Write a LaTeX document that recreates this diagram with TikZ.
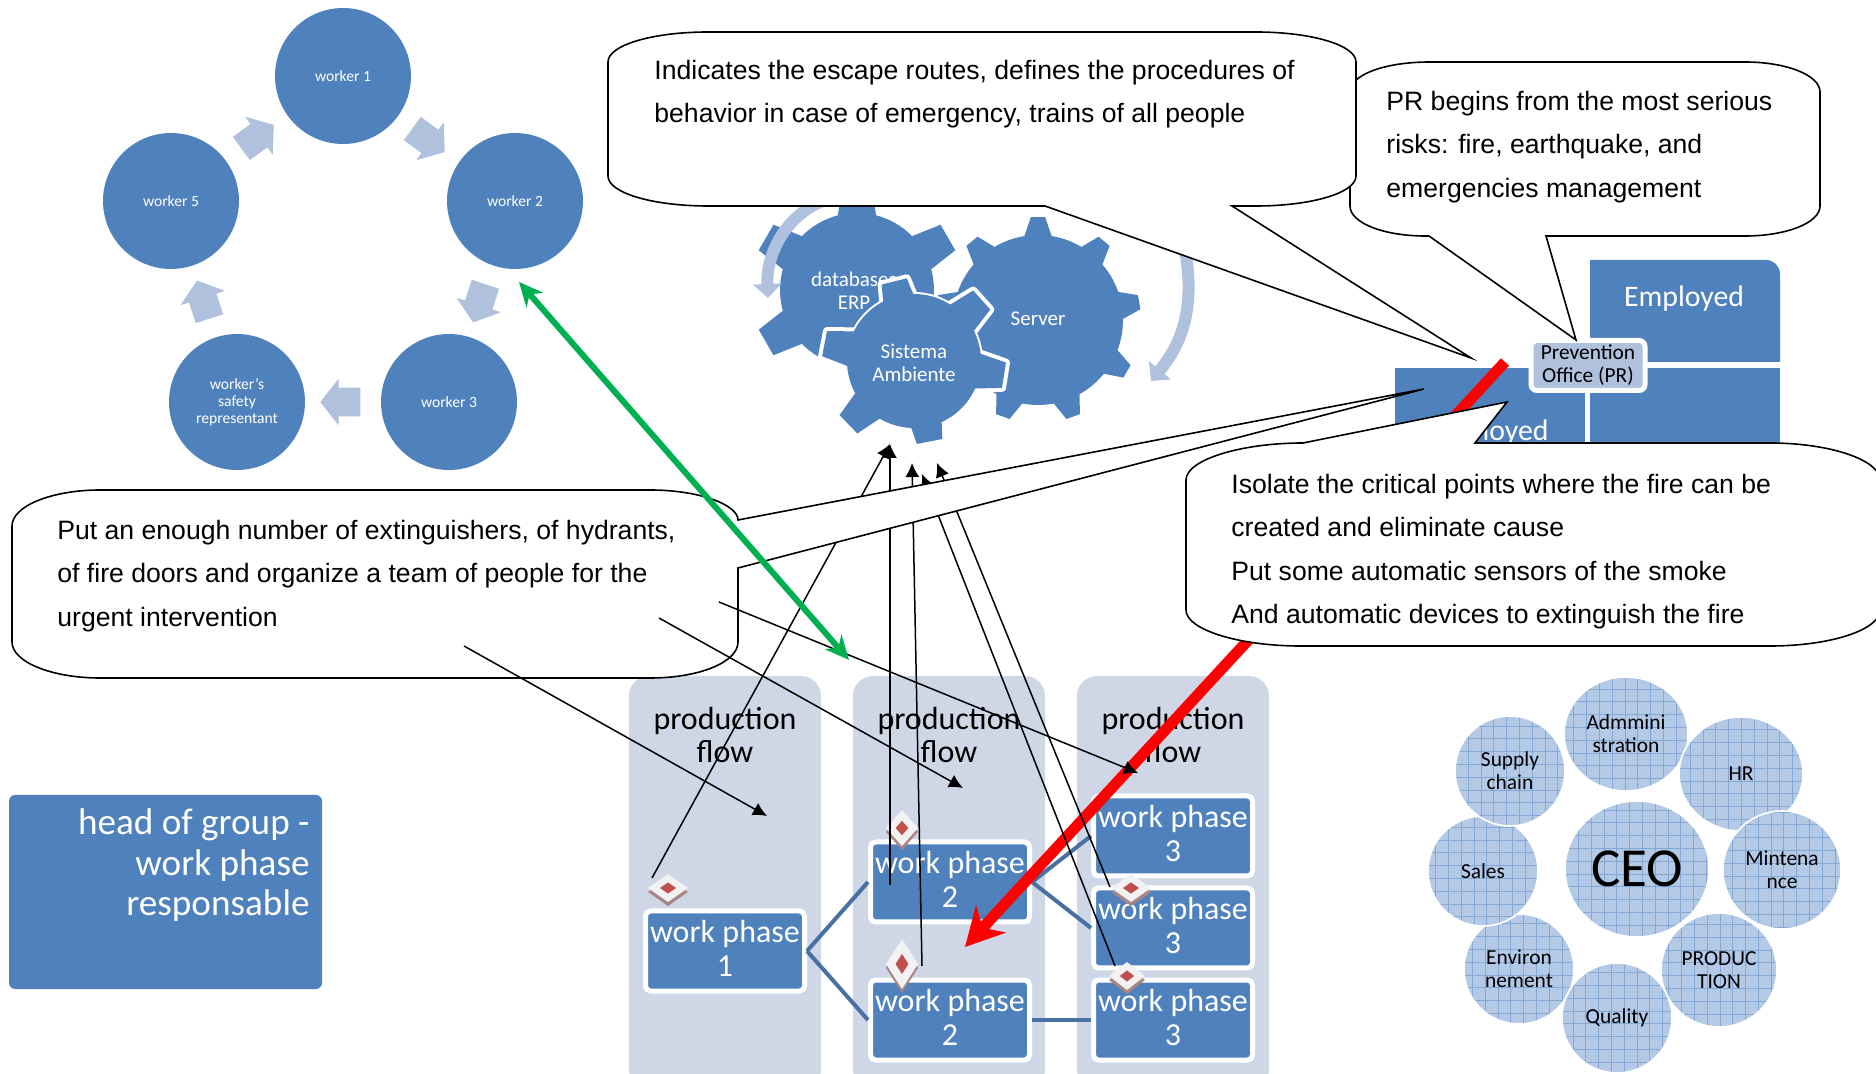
\documentclass[tikz,border=0pt]{standalone}
\usepackage{fontspec}
\setmainfont{Carlito}
\newfontfamily\arialfont{Liberation Sans}
\usetikzlibrary{arrows.meta, shapes.geometric, shapes.arrows}

\definecolor{boxblue}{HTML}{4F81BD}
\definecolor{lightblue}{HTML}{B0C1DD}
\definecolor{panelblue}{HTML}{CFD7E7}
\definecolor{linkblue}{HTML}{4770A3}
\definecolor{gridblue}{HTML}{84A8D6}
\definecolor{cellblue}{HTML}{B3C9E5}
\definecolor{markgray}{HTML}{F2F2F2}
\definecolor{markshade}{HTML}{A98585}
\definecolor{markred}{HTML}{C0504D}
\definecolor{arrowgreen}{HTML}{00B050}

\newcommand{\fsize}[2]{\fontsize{#1}{#2}\selectfont}
% teeth of a gear: style, centre, inner and outer radius, half widths, angles
\newcommand{\gearteeth}[7]{
  \foreach \a in {#7}
    \path[#1, shift={(#2)}] (-\a-#5:#3) -- (-\a-#6:#4) -- (-\a+#6:#4) -- (-\a+#5:#3) -- cycle;
}
\newcommand{\riskmark}[5]{
  \node[markshape, fill=markshade, minimum width=#4pt, minimum height=#5pt] (#1s) at (#2,#3+4) {};
  \node[markshape, fill=markgray, minimum width=#4pt, minimum height=#5pt] (#1) at (#2,#3) {};
  \node[markshape, fill=markred, minimum width=.4*#4pt, minimum height=.4*#5pt] (#1c) at (#2,#3) {};
}

\begin{document}
\begin{tikzpicture}[x=0.5pt, y=-0.5pt]

\tikzset{worker/.style = {shape=circle, fill=boxblue, text=white, minimum size=68pt, inner sep=0, align=center, font=\fsize{7.8}{8.5}}}
\tikzset{cyclearrow/.style = {shape=single arrow, fill=lightblue, minimum width=17.5pt, inner sep=7pt, outer sep=0, single arrow head extend=4.5pt, single arrow tip angle=104, single arrow head indent=0pt}}
\tikzset{panel/.style = {fill=panelblue, rounded corners=10pt, minimum width=96pt, minimum height=207pt}}
\tikzset{paneltext/.style = {align=center, inner sep=0, font=\fsize{16}{17}}}
\tikzset{phase/.style = {fill=boxblue, draw=white, line width=2.5pt, rounded corners=2.5pt, text=white, minimum width=79.5pt, minimum height=40pt, inner sep=0, align=center, text depth=2.4pt, font=\fsize{16}{17}}}
\tikzset{link/.style = {draw=linkblue, line width=2pt}}
\tikzset{dept/.style = {shape=ellipse, fill=cellblue, draw=white, line width=.8pt, inner sep=0, align=center, font=\fsize{10.7}{11.5},
  path picture={\draw[gridblue, line width=.3pt, step=6.4pt] (path picture bounding box.south west) grid (path picture bounding box.north east);}}}
\tikzset{markshape/.style = {shape=diamond, inner sep=0, outer sep=0}}
\tikzset{gearfill/.style = {fill=boxblue}}
\tikzset{gearedge/.style = {draw=white, line width=4pt, line join=round}}
\tikzset{gearlabel/.style = {text=white, inner sep=0, align=center, font=\fsize{10.5}{11.5}}}
\tikzset{turn/.style = {draw=lightblue, line width=6pt, -{Triangle[length=7pt, width=14pt]}}}
\tikzset{callout/.style = {draw=black, fill=white, line width=.8pt}}
\tikzset{calltext/.style = {anchor=north west, inner sep=0, align=left, font=\arialfont\fsize{13.3}{21.6}}}
\tikzset{edge/.style = {->, >={Latex[length=7pt, width=7pt]}, line width=.75pt}}

\useasboundingbox (0,0) rectangle (1876,1074);
\clip (0,0) rectangle (1876,1074);

% workers
\node[worker] (w1) at (343,76) {worker 1};
\node[worker] (w2) at (515,201) {worker 2};
\node[worker] (w3) at (449,402) {worker 3};
\node[worker] (w4) at (237,402) {worker's\\safety\\representant};
\node[worker] (w5) at (171,201) {worker 5};
\node[cyclearrow, rotate=-36] (c1) at (424,137) {};
\node[cyclearrow, rotate=-108] (c2) at (481,298) {};
\node[cyclearrow, rotate=180] (c3) at (346,402) {};
\node[cyclearrow, rotate=108] (c4) at (205,305) {};
\node[cyclearrow, rotate=36] (c5) at (253,140) {};

% head of group
\node[fill=boxblue, rounded corners=3pt, minimum width=156.5pt, minimum height=97pt, inner sep=0] (head) at (165.5,892) {};
\node[text=white, anchor=north east, align=right, inner sep=0, font=\fsize{18.6}{20.4}] (headtext) at (310,808) {head of group -\\work phase\\responsable};

% employed boxes
\fill[boxblue] (1590,362) -- (1590,260) [rounded corners=7pt] -- (1780,260) [sharp corners] -- (1780,362) -- cycle;
\fill[boxblue] (1395,368) rectangle (1585,460);
\fill[boxblue] (1590,368) rectangle (1780,460);
\node[text=white, inner sep=0, font=\fsize{14.9}{16}] (emp1) at (1684,299) {Employed};
\node[text=white, inner sep=0, anchor=east, font=\fsize{14.9}{16}] (emp2) at (1549,433) {Employed};
\node[fill=lightblue, draw=white, line width=2.5pt, rounded corners=3pt, minimum width=57pt, minimum height=25pt, inner sep=0, align=center, font=\fsize{10.7}{11.5}] (office) at (1588,365.5) {Prevention\\Office (PR)};

% production flow
\node[panel] (p1) at (725,883) {};
\node[panel] (p2) at (949,883) {};
\node[panel] (p3) at (1173,883) {};
\node[paneltext] (t1) at (725,735) {production\\flow};
\node[paneltext] (t2) at (949,735) {production\\flow};
\node[paneltext] (t3) at (1173,735) {production\\flow};
\node[phase] (wp1) at (725,951) {work phase\\1};
\node[phase] (wp2a) at (950,882) {work phase\\2};
\node[phase] (wp2b) at (950,1020) {work phase\\2};
\node[phase] (wp3a) at (1173,836) {work phase\\3};
\node[phase] (wp3b) at (1173,928) {work phase\\3};
\node[phase] (wp3c) at (1173,1020) {work phase\\3};
\draw[link] (wp1.east) -- (wp2a.west);
\draw[link] (wp1.east) -- (wp2b.west);
\draw[link] (wp2a.east) -- (wp3a.west);
\draw[link] (wp2a.east) -- (wp3b.west);
\draw[link] (wp2b.east) -- (wp3c.west);

\riskmark{m1}{668}{888}{20}{14}
\riskmark{m2}{902}{828}{16}{18}
\riskmark{m3}{902}{964}{16}{25}
\riskmark{m4}{1131}{888}{20}{14}
\riskmark{m5}{1127}{976}{18}{14}

% departments
\node[dept, minimum width=55pt, minimum height=55pt] (environ) at (1519,969) {Environ\\nement};
\node[dept, minimum width=55pt, minimum height=55pt] (sales) at (1483,871) {Sales};
\node[dept, minimum width=55pt, minimum height=55pt] (supply) at (1510,771) {Supply\\chain};
\node[dept, minimum width=62pt, minimum height=57pt] (admin) at (1626,734) {Admmini\\stration};
\node[dept, minimum width=62pt, minimum height=57pt] (hr) at (1741,774) {HR};
\node[dept, minimum width=59pt, minimum height=59pt] (maint) at (1782,870) {Mintena\\nce};
\node[dept, minimum width=58pt, minimum height=57pt] (prod) at (1719,970) {PRODUC\\TION};
\node[dept, minimum width=55pt, minimum height=55pt] (quality) at (1617,1018) {Quality};
\node[dept, minimum width=72pt, minimum height=68pt, font=\fsize{27.5}{29}] (ceo) at (1637,869) {CEO};

% gears
\coordinate (gdb) at (857,290);
\coordinate (gsv) at (1038,320);
\coordinate (gsa) at (914,361);
\gearteeth{gearfill}{gdb}{75}{106}{15}{8}{30,90,150,210,285,330}
\node[shape=circle, fill=boxblue, minimum size=77pt, inner sep=0] (db) at (gdb) {};
\node[gearlabel] (dbt) at (854,291) {databases\\ERP};
\gearteeth{gearfill}{gsv}{83}{103}{10}{4}{90,130,170,210,250,290,330,370,410}
\node[shape=circle, fill=boxblue, minimum size=85pt, inner sep=0] (sv) at (gsv) {};
\node[gearlabel] (svt) at (1038,319) {Server};
\gearteeth{gearedge}{gsa}{63}{92}{17}{8}{42,351,224,169}
\gearteeth{gearedge}{gsa}{58}{83}{17}{9}{104,281}
\node[shape=circle, draw=white, line width=4pt, minimum size=65pt, inner sep=0] (sao) at (gsa) {};
\gearteeth{gearfill}{gsa}{63}{92}{17}{8}{42,351,224,169}
\gearteeth{gearfill}{gsa}{58}{83}{17}{9}{104,281}
\node[shape=circle, fill=boxblue, minimum size=67pt, inner sep=0] (sa) at (gsa) {};
\node[gearlabel] (sat) at (914,363) {Sistema\\Ambiente};
\coordinate (ta) at (825,200);
\coordinate (tb) at (768,298);
\coordinate (tc) at (1182,235);
\coordinate (td) at (1151,381);
\draw[turn] (ta) .. controls (785,215) and (766,255) .. (tb);
\draw[turn] (tc) .. controls (1197,300) and (1185,340) .. (td);

% red arrow
\coordinate (rs) at (1505,362);
\coordinate (re) at (965,947);
\draw[red, line width=5.5pt, -{Stealth[length=19pt, width=20pt, inset=6pt]}] (rs) -- (re);

% arrows to the gears
\coordinate (ua) at (652,878);
\coordinate (ub) at (890,885);
\coordinate (uc) at (922,966);
\coordinate (ud) at (1115,966);
\coordinate (ue) at (1110,887);
\coordinate (ga) at (890,444);
\coordinate (gc) at (912,463);
\coordinate (gd) at (922,474);
\coordinate (ge) at (937,463);
\draw[edge] (ua) -- (ga);
\draw[edge] (ub) -- (ga);
\draw[edge] (uc) -- (gc);
\draw[edge] (ud) -- (gd);
\draw[edge] (ue) -- (ge);

% callouts
\draw[callout] (1430,62) -- (1745,62) .. controls (1786,62) and (1820,75) .. (1820,92) -- (1820,206) .. controls (1820,223) and (1786,236) .. (1745,236) -- (1546,236) -- (1576,340) -- (1429,236) -- (1425,236) .. controls (1384,236) and (1350,223) .. (1350,206) -- (1350,92) .. controls (1350,75) and (1384,62) .. (1430,62) -- cycle;
\draw[callout] (708,32) -- (1256,32) .. controls (1311,32) and (1356,45) .. (1356,62) -- (1356,176) .. controls (1356,193) and (1311,206) .. (1256,206) -- (1232,206) -- (1471,358) -- (1045,206) -- (708,206) .. controls (653,206) and (608,193) .. (608,176) -- (608,62) .. controls (608,45) and (653,32) .. (708,32) -- cycle;
\draw[callout] (100,490) -- (650,490) .. controls (700,490) and (738,505) .. (738,520) -- (1424,389) -- (738,568) -- (738,642) .. controls (738,662) and (700,678) .. (650,678) -- (100,678) .. controls (52,678) and (12,662) .. (12,642) -- (12,526) .. controls (12,506) and (52,490) .. (100,490) -- cycle;
\draw[callout] (1303,443) -- (1507,402) -- (1475,443) -- (1770,443) .. controls (1830,443) and (1880,460) .. (1880,480) -- (1880,610) .. controls (1880,630) and (1830,646) .. (1770,646) -- (1300,646) .. controls (1240,646) and (1186,630) .. (1186,610) -- (1186,480) .. controls (1186,460) and (1240,443) .. (1303,443) -- cycle;
\node[calltext] (note1) at (654,60) {Indicates the escape routes, defines the procedures of\\behavior in case of emergency, trains of all people};
\node[calltext] (note2) at (1386,91) {PR begins from the most serious\\risks: fire, earthquake, and\\emergencies management};
\node[calltext] (note3) at (57,520) {Put an enough number of extinguishers, of hydrants,\\of fire doors and organize a team of people for the\\urgent intervention};
\node[calltext] (note4) at (1231,474) {Isolate the critical points where the fire can be\\created and eliminate cause\\Put some automatic sensors of the smoke\\And automatic devices to extinguish the fire};

% arrows from the left callout
\coordinate (fa) at (464,646);
\coordinate (fb) at (659,618);
\coordinate (fc) at (719,602);
\coordinate (ha) at (767,816);
\coordinate (hb) at (963,788);
\coordinate (hc) at (1138,773);
\draw[edge] (fa) -- (ha);
\draw[edge] (fb) -- (hb);
\draw[edge] (fc) -- (hc);

% green arrow
\coordinate (ka) at (519,282);
\coordinate (kb) at (849,660);
\draw[arrowgreen, line width=3pt, {Stealth[length=12pt, width=11pt]}-{Stealth[length=12pt, width=11pt]}] (ka) -- (kb);

\end{tikzpicture}
\end{document}
